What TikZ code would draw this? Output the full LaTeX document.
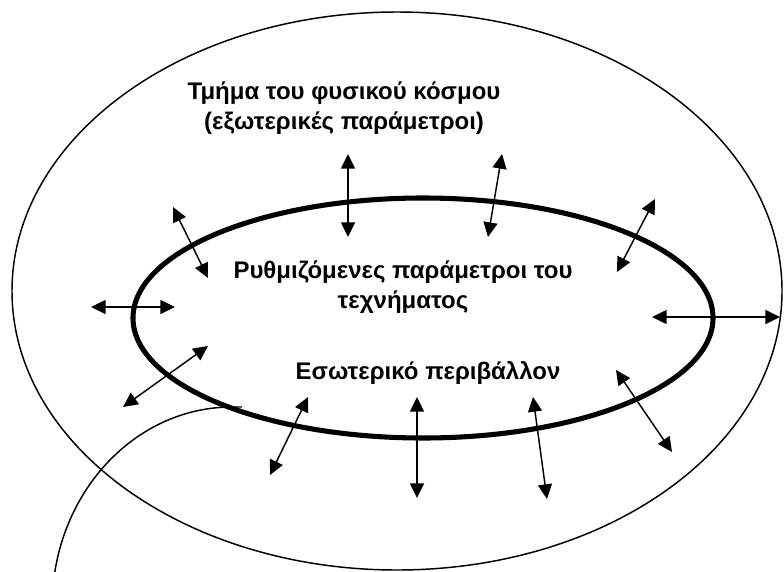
\documentclass[tikz,border=0pt]{standalone}
\usepackage{fontspec}
\setmainfont{Liberation Sans}
\usetikzlibrary{arrows.meta}

\begin{document}
\begin{tikzpicture}[x=0.75pt, y=-0.75pt,
  twoway/.style={line width=1.1pt, {Triangle[length=11pt,width=10.5pt]}-{Triangle[length=11pt,width=10.5pt]}},
  lbl/.style={font=\fontsize{18}{23}\selectfont\bfseries, align=center, inner sep=0pt}]

\useasboundingbox (0,0) rectangle (784,571);

% --- Outer region (physical world) ---
\draw[line width=1.1pt] (397,291) ellipse [x radius=385, y radius=279];

% --- Boundary of the artefact ---
\draw[line width=3.8pt] (423,318) ellipse [x radius=290, y radius=120];

% Callout curve
\coordinate (hook) at (242,407);
\draw[line width=1.1pt] (hook) -- (232,407) arc[start angle=270, end angle=190, x radius=180, y radius=200];

% --- Exchange arrows across the boundary ---
\foreach \i/\ax/\ay/\bx/\by in {1/173/207/208/278, 2/91/307/175/307, 3/123/407/208/346,
    4/348/154/348/237, 5/502/154/488/237, 6/655/199/617/272, 7/780/317/652/317,
    8/672/452/616/370, 9/417/498/417/397, 10/547/499/533/397, 11/270/475/308/397} {
  \coordinate (out\i) at (\ax,\ay);
  \coordinate (in\i) at (\bx,\by);
  \draw[twoway] (out\i) -- (in\i);
}

% Labels
\node[lbl] (world) at (344,108) {Τμήμα του φυσικού κόσμου\\(εξωτερικές παράμετροι)};
\node[lbl] (params) at (403,287) {Ρυθμιζόμενες παράμετροι του\\τεχνήματος};
\node[lbl] (inner) at (428,373) {Εσωτερικό περιβάλλον};

\end{tikzpicture}
\end{document}
